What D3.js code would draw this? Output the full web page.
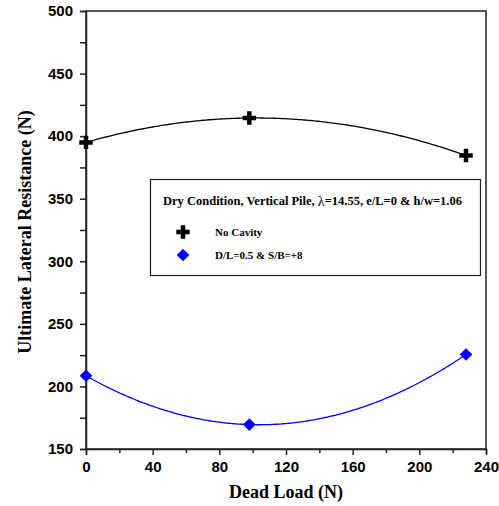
<!DOCTYPE html>
<html><head><meta charset="utf-8">
<script src="https://cdn.jsdelivr.net/npm/d3@7"></script>
<style>body{margin:0;background:#fff}svg{display:block}
.serif{font-family:"Liberation Serif","Times New Roman",Times,serif;font-weight:bold}
.sans{font-family:"Liberation Sans",Arial,Helvetica,sans-serif;font-weight:bold}
</style>
</head><body>
<script>
const deadLoad = [0, 98, 228];
const noCavity = [395, 414.5, 384.5];
const cavity = [208.5, 169.5, 225.5];
const xTicks = [0, 40, 80, 120, 160, 200, 240];
const yTicks = [150, 200, 250, 300, 350, 400, 450, 500];
const seriesNames = ["No Cavity", "D/L=0.5 & S/B=+8"];
const legendTitle = "Dry Condition, Vertical Pile, ";

const W = 499, H = 506;
const m = {l: 86, r: 13, t: 11, b: 57};
const svg = d3.select("body").append("svg").attr("width", W).attr("height", H);
const x = d3.scaleLinear().domain([0, 240]).range([m.l, W - m.r]);
const y = d3.scaleLinear().domain([150, 500]).range([H - m.b, m.t]);

const axisColor = "#222";
svg.append("rect").attr("x", x(0)).attr("y", y(500)).attr("width", x(240) - x(0)).attr("height", y(150) - y(500))
  .attr("fill", "none").attr("stroke", axisColor).attr("stroke-width", 1.5);

const xAxis = svg.append("g").attr("transform", `translate(0,${y(150)})`)
  .call(d3.axisBottom(x).tickValues(d3.range(0, 241, 20)).tickSize(5).tickFormat(d => xTicks.includes(d) ? d : ""));
xAxis.attr("font-family", null).attr("font-size", null);
xAxis.select(".domain").attr("stroke", axisColor).attr("stroke-width", 1.5);
xAxis.selectAll(".tick line").attr("stroke", axisColor).attr("stroke-width", 1.5)
  .attr("y2", d => xTicks.includes(d) ? 6 : 4);
xAxis.selectAll(".tick text").attr("y", 12).attr("class", "sans").style("font-size", "15px").attr("fill", "#000");

const yAxis = svg.append("g").attr("transform", `translate(${x(0)},0)`)
  .call(d3.axisLeft(y).tickValues(d3.range(150, 501, 25)).tickSize(6).tickFormat(d => yTicks.includes(d) ? d : ""));
yAxis.attr("font-family", null).attr("font-size", null);
yAxis.select(".domain").attr("stroke", axisColor).attr("stroke-width", 1.5);
yAxis.selectAll(".tick line").attr("stroke", axisColor).attr("stroke-width", 1.5);
yAxis.selectAll(".tick text").attr("x", -13).attr("class", "sans").style("font-size", "15px").attr("fill", "#000");

svg.append("text").attr("class", "serif").attr("x", (x(0) + x(240)) / 2).attr("y", 498).attr("text-anchor", "middle")
  .style("font-size", "18px").text("Dead Load (N)");
svg.append("text").attr("class", "serif").attr("transform", `translate(31,${(y(150) + y(500)) / 2 + 2}) rotate(-90)`)
  .attr("text-anchor", "middle").style("font-size", "18px").text("Ultimate Lateral Resistance (N)");

function polyfit2(xs, ys) {
  const n = xs.length;
  let S = Array(5).fill(0), T = Array(3).fill(0);
  for (let i = 0; i < n; i++) {
    for (let k = 0; k < 5; k++) S[k] += Math.pow(xs[i], k);
    for (let k = 0; k < 3; k++) T[k] += ys[i] * Math.pow(xs[i], k);
  }
  const A = [[S[0], S[1], S[2], T[0]], [S[1], S[2], S[3], T[1]], [S[2], S[3], S[4], T[2]]];
  for (let i = 0; i < 3; i++) {
    for (let j = i + 1; j < 3; j++) {
      const f = A[j][i] / A[i][i];
      for (let k = i; k < 4; k++) A[j][k] -= f * A[i][k];
    }
  }
  const c = [0, 0, 0];
  for (let i = 2; i >= 0; i--) {
    let s = A[i][3];
    for (let k = i + 1; k < 3; k++) s -= A[i][k] * c[k];
    c[i] = s / A[i][i];
  }
  return t => c[0] + c[1] * t + c[2] * t * t;
}

const series = [
  {vals: noCavity, color: "#000", sym: "cross"},
  {vals: cavity, color: "#0000ff", sym: "diamond"}
];
const line = d3.line().x(d => x(d[0])).y(d => y(d[1]));
const crossSym = d3.symbol().type(d3.symbolCross).size(100);
const diaSym = d3.symbol().type(d3.symbolSquare).size(80);

series.forEach(s => {
  const f = polyfit2(deadLoad, s.vals);
  const xmax = d3.max(deadLoad);
  const pts = d3.range(0, 201).map(i => { const t = xmax * i / 200; return [t, f(t)]; });
  svg.append("path").attr("d", line(pts)).attr("fill", "none").attr("stroke", s.color).attr("stroke-width", 1.3);
  svg.append("g").selectAll("path").data(deadLoad.map((d, i) => [d, s.vals[i]])).join("path")
    .attr("transform", d => `translate(${x(d[0])},${y(d[1])})` + (s.sym === "diamond" ? " rotate(45)" : ""))
    .attr("d", s.sym === "cross" ? crossSym() : diaSym())
    .attr("fill", s.color);
});

const lg = svg.append("g");
lg.append("rect").attr("x", 150.5).attr("y", 179.5).attr("width", 330).attr("height", 96)
  .attr("fill", "#fff").attr("stroke", axisColor).attr("stroke-width", 1.2);
const lt = lg.append("text").attr("class", "serif").attr("x", 163).attr("y", 205).style("font-size", "12.5px");
lt.append("tspan").text(legendTitle);
lt.append("tspan").style("font-weight", "normal").style("font-size", "14px").attr("dy", 1).text("λ");
lt.append("tspan").attr("dy", -1).text("=14.55, e/L=0 & h/w=1.06");
seriesNames.forEach((name, i) => {
  const yy = 232 + i * 23;
  lg.append("path").attr("transform", `translate(183,${yy})` + (i === 1 ? " rotate(45)" : ""))
    .attr("d", i === 0 ? crossSym() : diaSym()).attr("fill", series[i].color);
  lg.append("text").attr("class", "serif").attr("x", 215).attr("y", yy + 4).style("font-size", "11px").text(name);
});
</script>
</body></html>
